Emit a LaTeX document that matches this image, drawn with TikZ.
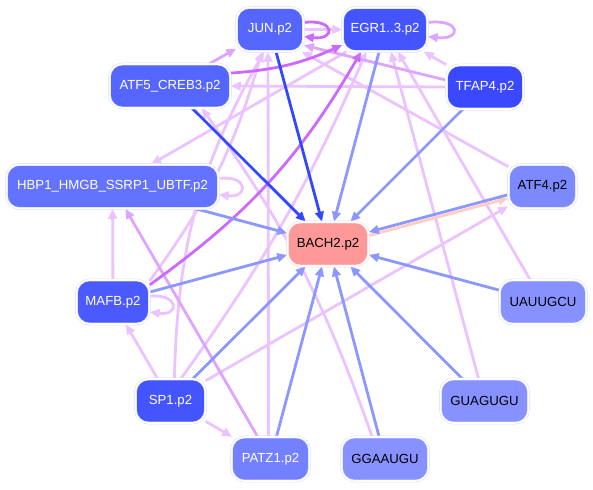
\documentclass[tikz,border=0pt]{standalone}
\usepackage{fontspec}
\setmainfont{Liberation Sans}
\usetikzlibrary{arrows.meta,backgrounds}
\definecolor{cJUN}{RGB}{85,102,255}
\definecolor{cEGR}{RGB}{68,85,255}
\definecolor{cTFAP}{RGB}{58,72,255}
\definecolor{cHBP}{RGB}{100,115,255}
\definecolor{cATF4}{RGB}{125,138,255}
\definecolor{cBACH}{RGB}{255,153,153}
\definecolor{cMAFB}{RGB}{75,90,255}
\definecolor{cLight}{RGB}{135,145,255}
\definecolor{cPATZ}{RGB}{115,128,255}
\definecolor{nline}{RGB}{215,220,255}
\definecolor{eblue}{RGB}{140,152,255}
\definecolor{edblue}{RGB}{50,72,255}
\definecolor{epink}{RGB}{235,195,255}
\definecolor{emid}{RGB}{222,165,255}
\definecolor{eviol}{RGB}{205,105,255}
\definecolor{esal}{RGB}{255,205,195}
\tikzset{
  nd/.style={rounded corners=13pt, draw=nline, double=white, double distance=1.6pt,
    line width=.5pt, minimum height=44pt, inner sep=0pt,
    font=\fontsize{13.2}{15}\selectfont, text=white},
  dk/.style={text=black},
  ed/.style={line width=2.8pt, -{Triangle[length=10pt,width=8.5pt]}},
  eb/.style={ed, draw=eblue},
  ebd/.style={ed, draw=edblue},
  ep/.style={ed, draw=epink},
  em/.style={ed, draw=emid},
  ev/.style={ed, draw=eviol},
  es/.style={ed, draw=esal},
}
\begin{document}
\begin{tikzpicture}[x=1pt,y=1pt]
\useasboundingbox (0,0) rectangle (593,-489);
\node[nd, fill=cJUN, minimum width=67pt] (JUN) at (270,-29.5) {JUN.p2};
\node[nd, fill=cEGR, minimum width=85pt] (EGR) at (385,-29.5) {EGR1..3.p2};
\node[nd, fill=cJUN, minimum width=121pt] (ATF5) at (170,-86) {ATF5\_CREB3.p2};
\node[nd, fill=cTFAP, minimum width=77pt] (TFAP) at (485,-87) {TFAP4.p2};
\node[nd, fill=cHBP, minimum width=212pt] (HBP) at (112.5,-186.5) {HBP1\_HMGB\_SSRP1\_UBTF.p2};
\node[nd, dk, fill=cATF4, minimum width=68pt] (ATF4) at (542.5,-186.5) {ATF4.p2};
\node[nd, dk, fill=cBACH, draw=cBACH!40, minimum width=81pt] (BACH) at (328,-244) {BACH2.p2};
\node[nd, dk, fill=cLight, minimum width=87pt] (UAU) at (543,-302) {UAUUGCU};
\node[nd, fill=cMAFB, minimum width=73pt] (MAFB) at (113,-302) {MAFB.p2};
\node[nd, fill=cEGR, minimum width=70pt] (SP1) at (170.5,-401) {SP1.p2};
\node[nd, dk, fill=cLight, minimum width=88pt] (GUA) at (484.5,-401) {GUAGUGU};
\node[nd, fill=cPATZ, minimum width=78pt] (PATZ) at (270.5,-459) {PATZ1.p2};
\node[nd, dk, fill=cLight, minimum width=87pt] (GGA) at (385,-459) {GGAAUGU};
\begin{pgfonlayer}{background}
% pink / violet edges
\draw[ep] (SP1) -- (ATF4);
\draw[ep] (SP1) -- (MAFB);
\draw[ep] (SP1) -- (PATZ);
\draw[ep] (SP1.80) to[bend left=14] (JUN.255);
\draw[ep] (SP1.65) to[bend right=6] (EGR.230);
\draw[ep] (MAFB.30) to[bend right=10] (JUN.250);
\draw[ep] (MAFB) -- (HBP);
\draw[ep] ([yshift=6pt]MAFB.east) .. controls +(30,2) and +(30,-4) .. ([yshift=-10pt]MAFB.east);
\draw[ep] (PATZ.95) -- (JUN.265);
\draw[ep] (GGA.120) to[bend right=8] (ATF5.-35);
\draw[ep] (UAU) -- (EGR);
\draw[ep] (GUA) -- (EGR);
\draw[ep] (EGR) -- (HBP);
\draw[ep] (ATF4.150) -- (JUN.-35);
\draw[ep] (TFAP.west) -- (ATF5.east);
\draw[ep] (TFAP) -- (EGR);
\draw[ep] ([yshift=8pt]HBP.east) .. controls +(30,4) and +(30,-4) .. ([yshift=-8pt]HBP.east);
\draw[ep] (JUN.east) -- (EGR.west);
\draw[em] (TFAP.170) -- (JUN.-25);
\draw[em] (PATZ) -- (HBP);
\draw[em] (ATF5) -- (JUN);
\draw[em] ([yshift=7pt]EGR.east) .. controls +(34,4) and +(34,-4) .. ([yshift=-7pt]EGR.east);
\draw[ev] (MAFB.25) to[bend right=12] (EGR.223);
\draw[ev] (ATF5.12) to[bend right=10] (EGR.200);
\draw[ev] ([yshift=7pt]JUN.east) .. controls +(32,4) and +(32,-4) .. ([yshift=-7pt]JUN.east);
% blue edges into BACH2
\draw[eb] (HBP) -- (BACH);
\draw[ebd] (ATF5) -- (BACH);
\draw[ebd] (JUN) -- (BACH);
\draw[eb] (EGR) -- (BACH);
\draw[eb] (TFAP) -- (BACH);
\draw[es, transform canvas={yshift=-2.5pt}] (BACH) -- (ATF4);
\draw[eb, transform canvas={yshift=1pt}] (ATF4) -- (BACH);
\draw[eb] (UAU) -- (BACH);
\draw[eb] (GUA) -- (BACH);
\draw[eb] (GGA) -- (BACH);
\draw[eb] (PATZ) -- (BACH);
\draw[eb] (SP1) -- (BACH);
\draw[eb] (MAFB) -- (BACH);
\end{pgfonlayer}
\end{tikzpicture}
\end{document}
